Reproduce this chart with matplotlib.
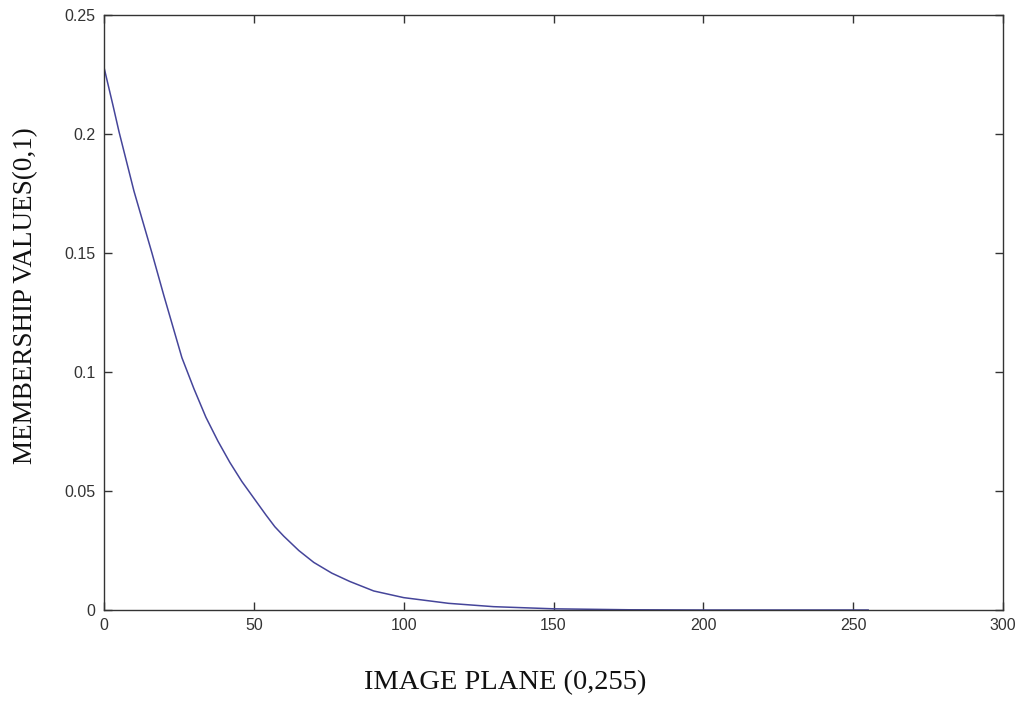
import matplotlib
matplotlib.use("Agg")
import matplotlib.pyplot as plt

x_vals = [0, 3, 5, 8, 10, 13, 16, 20, 23, 26, 30, 34, 38, 42, 46, 50, 54, 57, 60, 65, 70, 76, 82,
          90, 100, 115, 130, 150, 175, 200, 230, 255]
y_vals = [0.228, 0.212, 0.201, 0.186, 0.176, 0.163, 0.150, 0.132, 0.119, 0.106, 0.093, 0.081, 0.071,
          0.062, 0.054, 0.047, 0.040, 0.035, 0.031, 0.025, 0.020, 0.0155, 0.012,
          0.008, 0.0052, 0.0028, 0.0014, 0.0005, 0.0001, 0.0, 0.0, 0.0]
x_ticks = [0, 50, 100, 150, 200, 250, 300]
y_ticks = [0, 0.05, 0.1, 0.15, 0.2, 0.25]
y_tick_labels = ["0", "0.05", "0.1", "0.15", "0.2", "0.25"]
x_label = "IMAGE PLANE (0,255)"
y_label = "MEMBERSHIP VALUES(0,1)"

W, H = 1023, 710
fig = plt.figure(figsize=(W / 100, H / 100), dpi=100)
ax = fig.add_axes([104 / W, 100 / H, (1003 - 104) / W, (610 - 15) / H])
ax.plot(x_vals, y_vals, color="#45459a", linewidth=1.1)
ax.set_xlim(0, 300)
ax.set_ylim(0, 0.25)
ax.set_xticks(x_ticks)
ax.set_xticklabels([str(t) for t in x_ticks])
ax.set_yticks(y_ticks)
ax.set_yticklabels(y_tick_labels)
ax.tick_params(direction="in", top=True, right=True, length=6, width=1, colors="#333333",
               labelsize=11.5, labelcolor="#333333", pad=6)
for lab in ax.get_xticklabels() + ax.get_yticklabels():
    lab.set_family("Liberation Sans")
for s in ax.spines.values():
    s.set_color("#333333")
    s.set_linewidth(1)
fig.text(505 / W, 1 - 683 / H, x_label, family="Liberation Serif", fontsize=20.5,
         color="#111111", ha="center", va="center")
fig.text(26 / W, 1 - 296 / H, y_label, family="Liberation Serif", fontsize=19.5,
         color="#111111", ha="center", va="center", rotation=90)
fig.savefig("out.png", dpi=100)
